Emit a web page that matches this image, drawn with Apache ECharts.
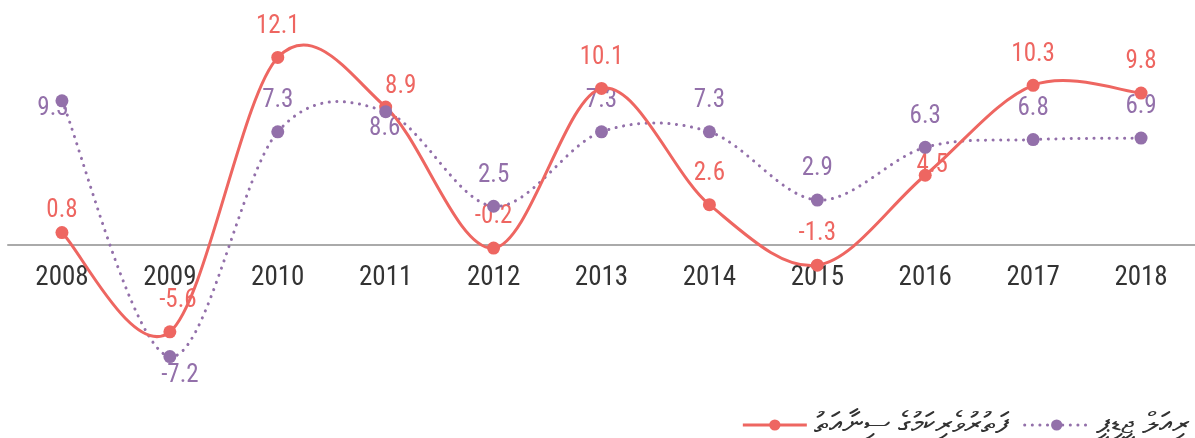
<!DOCTYPE html>
<html>
<head>
<meta charset="utf-8">
<script src="https://cdn.jsdelivr.net/npm/echarts@6/dist/echarts.min.js"></script>
<style>
  html, body { margin: 0; padding: 0; background: #fff; }
  #chart { width: 1195px; height: 438px; }
</style>
</head>
<body>
<div id="chart"></div>
<script>
const years = ['2008', '2009', '2010', '2011', '2012', '2013', '2014', '2015', '2016', '2017', '2018'];
const tourismGrowth = [0.8, -5.6, 12.1, 8.9, -0.2, 10.1, 2.6, -1.3, 4.5, 10.3, 9.8];
const realGdpGrowth = [9.3, -7.2, 7.3, 8.6, 2.5, 7.3, 7.3, 2.9, 6.3, 6.8, 6.9];
const seriesNames = ['ފަތުރުވެރިކަމުގެ ސިނާއަތު', 'ރިއަލް ޖީޑީޕީ'];

const RED = '#ee6661';
const PURPLE = '#9370aa';
const FONT = '"Roboto Condensed", "Liberation Sans Narrow", Roboto, sans-serif';
const DOTS = [0.1, 7.5];

// per-point label tweaks, the rest sit on top
const redLabelPos = {
    0: { offset: [0, 9] },
    1: { offset: [8, 0] },
    3: { offset: [15, 11] },
    8: { offset: [7, 21] }
};
const purpleLabelPos = {
    0: { position: 'inside', offset: [-9, 8] },
    1: { position: 'bottom', offset: [10, -12] },
    3: { position: 'bottom', offset: [-1, -14] }
};

function withLabels(values, overrides) {
    return values.map((v, i) => (overrides[i] ? { value: v, label: overrides[i] } : v));
}

// catmull-rom curve, one bezier segment per point, built on the chart's own coords
function curveRenderer(values, stroke, dash) {
    return function (params, api) {
        const i = params.dataIndex;
        const n = values.length;
        if (i >= n - 1) {
            return null;
        }
        const pt = (k) => {
            const j = Math.max(0, Math.min(n - 1, k));
            return api.coord([j, values[j]]);
        };
        const p0 = pt(i - 1);
        const p1 = pt(i);
        const p2 = pt(i + 1);
        const p3 = pt(i + 2);
        const m1 = [(p2[0] - p0[0]) / 2, (p2[1] - p0[1]) / 2];
        const m2 = [(p3[0] - p1[0]) / 2, (p3[1] - p1[1]) / 2];
        return {
            type: 'bezierCurve',
            shape: {
                x1: p1[0], y1: p1[1],
                x2: p2[0], y2: p2[1],
                cpx1: p1[0] + m1[0] / 3, cpy1: p1[1] + m1[1] / 3,
                cpx2: p2[0] - m2[0] / 3, cpy2: p2[1] - m2[1] / 3
            },
            style: {
                fill: 'none',
                stroke: stroke,
                lineWidth: 3,
                lineDash: dash,
                lineCap: 'round'
            }
        };
    };
}

function labelStyle(color) {
    return {
        show: true,
        position: 'top',
        distance: 12,
        color: color,
        opacity: 1,
        fontSize: 25,
        fontFamily: FONT
    };
}

const chart = echarts.init(document.getElementById('chart'));

chart.setOption({
    animation: false,
    grid: { left: 8, right: 0, top: 28, height: 341 },
    legend: {
        right: 0,
        top: 405,
        itemWidth: 64,
        itemHeight: 14,
        itemGap: 14,
        textStyle: { fontSize: 30, color: '#333', padding: [0, 0, 0, 2] },
        data: [
            { name: seriesNames[0], lineStyle: { width: 3, color: RED, opacity: 1, type: 'solid' } },
            { name: seriesNames[1], lineStyle: { width: 3, color: PURPLE, opacity: 1, type: DOTS, cap: 'round' } }
        ]
    },
    xAxis: {
        type: 'category',
        data: years,
        offset: -124,
        axisLine: { onZero: false, lineStyle: { color: '#aaa', width: 2 } },
        axisTick: { show: false },
        axisLabel: {
            color: '#333',
            fontSize: 27,
            fontFamily: FONT,
            margin: 20
        }
    },
    yAxis: {
        type: 'value',
        min: -8,
        max: 14,
        show: false,
        splitLine: { show: false }
    },
    series: [
        // markers (also give the legend its icon)
        {
            name: seriesNames[0],
            type: 'line',
            data: tourismGrowth,
            symbol: 'circle',
            symbolSize: 13,
            itemStyle: { color: RED },
            lineStyle: { width: 0, color: RED },
            z: 5
        },
        {
            name: seriesNames[1],
            type: 'line',
            data: realGdpGrowth,
            symbol: 'circle',
            symbolSize: 13,
            itemStyle: { color: PURPLE },
            lineStyle: { width: 0, color: PURPLE },
            z: 6
        },
        // curves
        {
            name: seriesNames[0],
            type: 'custom',
            data: tourismGrowth.map((v, i) => [i, v]),
            encode: { x: 0, y: 1 },
            renderItem: curveRenderer(tourismGrowth, RED, null),
            silent: true,
            z: 4
        },
        {
            name: seriesNames[1],
            type: 'custom',
            data: realGdpGrowth.map((v, i) => [i, v]),
            encode: { x: 0, y: 1 },
            renderItem: curveRenderer(realGdpGrowth, PURPLE, DOTS),
            silent: true,
            z: 3
        },
        // value labels, drawn beneath the curves
        {
            name: seriesNames[0],
            type: 'scatter',
            data: withLabels(tourismGrowth, redLabelPos),
            symbolSize: 13,
            itemStyle: { color: 'rgba(0,0,0,0)', opacity: 1 },
            label: labelStyle(RED),
            silent: true,
            z: 1
        },
        {
            name: seriesNames[1],
            type: 'scatter',
            data: withLabels(realGdpGrowth, purpleLabelPos),
            symbolSize: 13,
            itemStyle: { color: 'rgba(0,0,0,0)', opacity: 1 },
            label: labelStyle(PURPLE),
            silent: true,
            z: 1
        }
    ]
});
</script>
</body>
</html>
